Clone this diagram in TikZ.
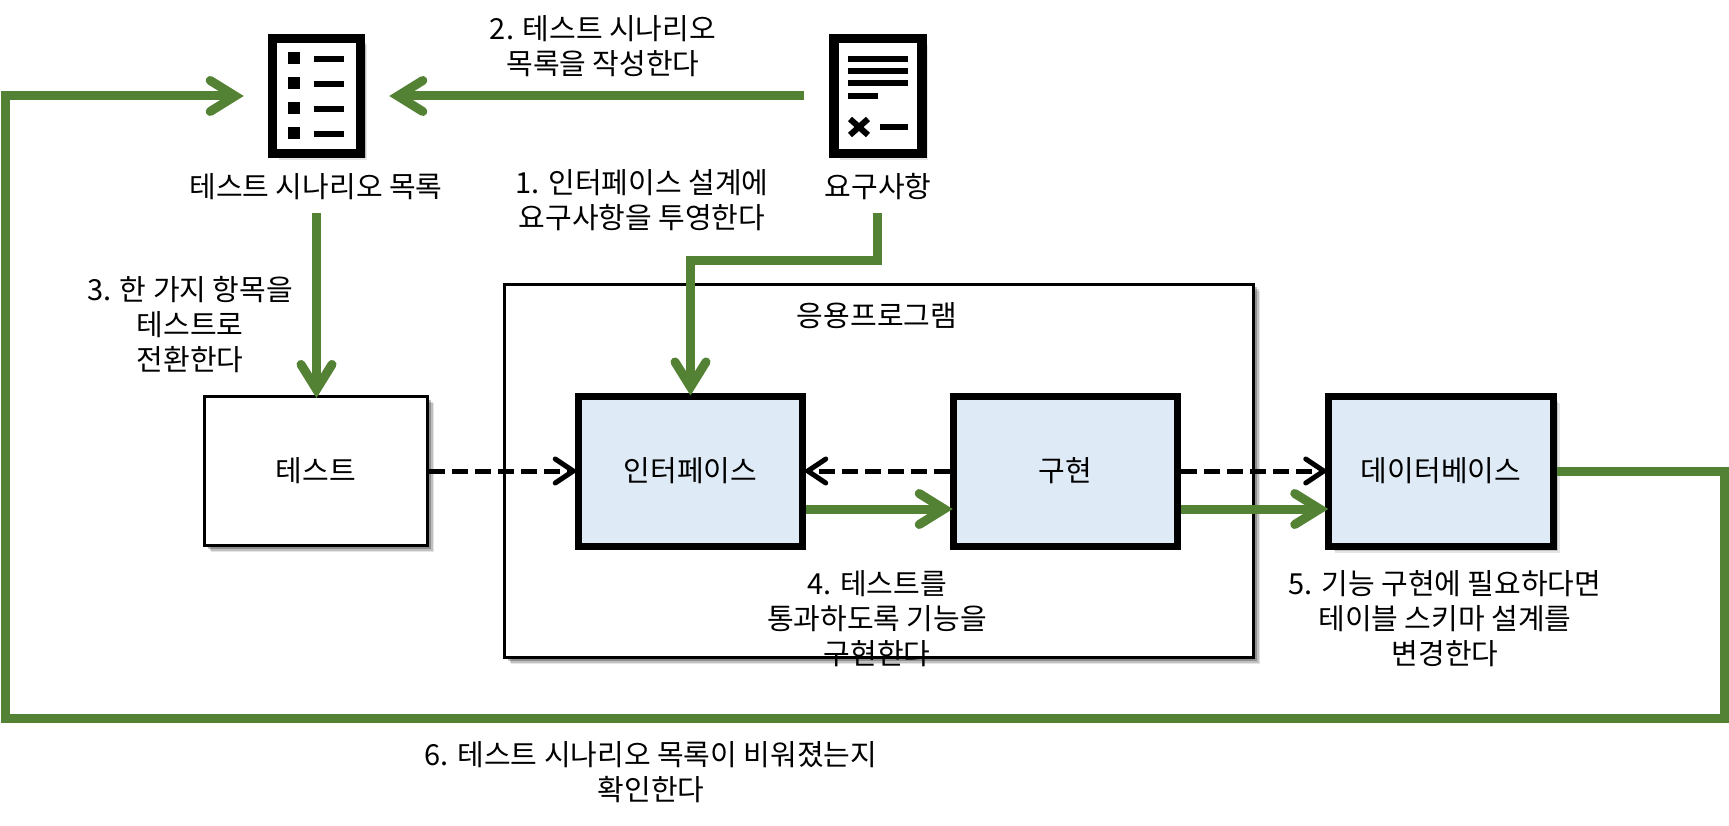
\documentclass[tikz,border=0pt]{standalone}
\usepackage{fontspec}
\setmainfont{Noto Sans CJK KR}
\usetikzlibrary{arrows.meta,shadows}
\definecolor{grn}{RGB}{84,130,53}
\definecolor{paleblue}{RGB}{222,234,246}
\tikzset{
 softshadow/.style={
  drop shadow={shadow xshift=6.5pt,shadow yshift=-6.5pt,fill=black,opacity=.10},
  drop shadow={shadow xshift=5pt,shadow yshift=-5pt,fill=black,opacity=.16},
  drop shadow={shadow xshift=3pt,shadow yshift=-3pt,fill=black,opacity=.25}},
 iconbox/.style={draw=black,fill=white,line width=9.5pt,minimum width=88pt,minimum height=115pt,inner sep=0pt,softshadow},
 bluebox/.style={draw=black,fill=paleblue,line width=7pt,minimum height=150pt,inner sep=0pt},
 thinbox/.style={draw=black,fill=white,line width=3pt,inner sep=0pt},
 lbl/.style={align=center,inner sep=0pt,font=\fontsize{29}{35}\selectfont},
 greenline/.style={draw=grn,line width=9pt},
 greenarrow/.style={greenline,shorten >=-3pt,-{Straight Barb[length=25pt,width=31pt,line cap=round,line join=miter]}},
 dasharrow/.style={draw=black,line width=5pt,dash pattern=on 16pt off 7pt,shorten >=-3pt,-{Straight Barb[length=18pt,width=24pt,line cap=round,line join=miter]}},
 glyphbar/.style={fill=black,draw=none}
}
\begin{document}
\begin{tikzpicture}[x=1pt,y=-1pt]
\useasboundingbox[fill=white] (0,0) rectangle (1729,826);

% application container
\node[thinbox,softshadow,minimum width=749pt,minimum height=373pt] (app) at (879,471) {};

% icons
\node[iconbox] (list) at (316.5,96) {};
\node[iconbox] (req) at (877.75,96) {};
\foreach \yy in {52,77,102,127}{
  \fill[glyphbar] (288,\yy) rectangle (300,\yy+12);
  \fill[glyphbar] (314,\yy+4) rectangle (344,\yy+10);
}
\fill[glyphbar] (848,56) rectangle (908,62);
\fill[glyphbar] (848,68) rectangle (908,74);
\fill[glyphbar] (848,80) rectangle (908,86);
\fill[glyphbar] (848,93) rectangle (878,99);
\draw[line width=6pt] (850,119) -- (868,135) (868,119) -- (850,135);
\fill[glyphbar] (880,124) rectangle (908,130);

% boxes
\node[thinbox,softshadow,minimum width=223pt,minimum height=149pt] (test) at (316,471) {};
\node[bluebox,minimum width=224.5pt] (iface) at (690.5,471) {};
\node[bluebox,minimum width=224.5pt] (impl) at (1065.5,471) {};
\node[bluebox,softshadow,minimum width=224.5pt] (db) at (1441,471) {};

\node[lbl] at (test) {테스트};
\node[lbl] at (iface) {인터페이스};
\node[lbl] at (impl) {구현};
\node[lbl] at (db) {데이터베이스};

% labels
\node[lbl] (l2) at (603,46) {2. 테스트 시나리오\\목록을 작성한다};
\node[lbl] (llist) at (316,187) {테스트 시나리오 목록};
\node[lbl] (l1) at (642,200) {1. 인터페이스 설계에\\요구사항을 투영한다};
\node[lbl] (lreq) at (878,187) {요구사항};
\node[lbl] (l3) at (190,325) {3. 한 가지 항목을\\테스트로\\전환한다};
\node[lbl] (lapp) at (877,316) {응용프로그램};
\node[lbl] (l4) at (877,619) {4. 테스트를\\통과하도록 기능을\\구현한다};
\node[lbl] (l5) at (1445,619) {5. 기능 구현에 필요하다면\\테이블 스키마 설계를\\변경한다};
\node[lbl] (l6) at (651,772) {6. 테스트 시나리오 목록이 비워졌는지\\확인한다};

% helper points
\coordinate (bend) at (690.5,261);
\coordinate (c1) at (1724.5,471);
\coordinate (c2) at (1724.5,718);
\coordinate (c3) at (5,718);
\coordinate (c4) at (5,96);

% green connectors
\draw[greenarrow,shorten <=25pt,shorten >=24pt] (req.west) -- (list.east);
\draw[greenarrow,shorten >=24pt] (db.east) -- (c1) -- (c2) -- (c3) -- (c4) -- (list.west);
\draw[greenarrow,shorten <=55pt] (list.south) -- (list.south |- test.north);
\draw[greenarrow,shorten <=55pt] (req.south) |- (bend) -- (iface.north);
\draw[greenarrow] ([yshift=-38pt]iface.east) -- ([yshift=-38pt]impl.west);
\draw[greenarrow] ([yshift=-38pt]impl.east) -- ([yshift=-38pt]db.west);

% dashed connectors
\draw[dasharrow] (test.east) -- (iface.west);
\draw[dasharrow] (impl.west) -- (iface.east);
\draw[dasharrow] (impl.east) -- (db.west);
\end{tikzpicture}
\end{document}
